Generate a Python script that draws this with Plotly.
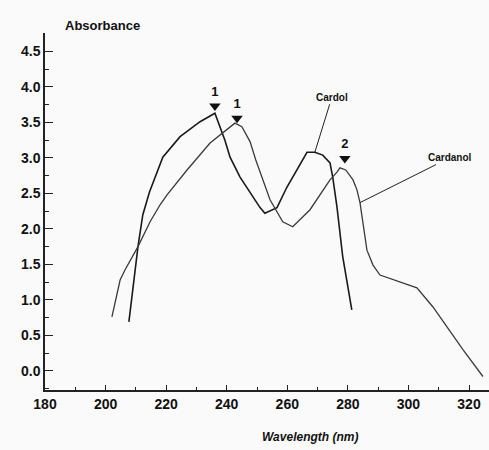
import plotly.graph_objects as go

# Cardol spectrum (wavelength nm, absorbance)
cardol_x = [207.7, 210.7, 212.3, 214.5, 218.9, 224.6, 231.2, 236.1, 239.4, 241.1, 244.4,
            247.7, 251.0, 252.6, 256.6, 259.9, 263.2, 266.5, 269.1, 271.7, 274.1, 275.0,
            276.4, 278.3, 281.3]
cardol_y = [0.69, 1.75, 2.20, 2.52, 3.01, 3.30, 3.51, 3.63, 3.25, 3.01, 2.73,
            2.51, 2.30, 2.22, 2.30, 2.59, 2.83, 3.08, 3.08, 3.04, 2.93, 2.73,
            2.31, 1.61, 0.86]

# Cardanol spectrum
cardanol_x = [202.1, 204.8, 206.4, 210.7, 214.7, 218.0, 220.3, 226.9, 234.5, 240.4, 242.7,
              245.0, 247.7, 249.6, 251.6, 254.3, 258.5, 261.8, 267.5, 274.1, 276.4, 277.4,
              279.3, 281.7, 283.0, 284.0, 286.3, 288.3, 290.6, 297.2, 302.8, 308.1, 312.7,
              318.0, 324.6]
cardanol_y = [0.76, 1.28, 1.42, 1.75, 2.10, 2.34, 2.48, 2.83, 3.21, 3.42, 3.49,
              3.44, 3.23, 2.97, 2.73, 2.41, 2.10, 2.03, 2.27, 2.69, 2.80, 2.86,
              2.83, 2.69, 2.55, 2.37, 1.70, 1.49, 1.35, 1.25, 1.17, 0.90, 0.62,
              0.30, -0.08]

# Peak markers
peak_x = [236.1, 243.4, 279.0]
peak_y = [3.73, 3.56, 2.99]
peak_labels = ["1", "1", "2"]

x_ticks = [180, 200, 220, 240, 260, 280, 300, 320]
y_ticks = [0.0, 0.5, 1.0, 1.5, 2.0, 2.5, 3.0, 3.5, 4.0, 4.5]

fig = go.Figure()
fig.add_trace(go.Scatter(x=cardol_x, y=cardol_y, mode="lines",
                         line=dict(color="#1a1a1a", width=1.6), showlegend=False))
fig.add_trace(go.Scatter(x=cardanol_x, y=cardanol_y, mode="lines",
                         line=dict(color="#3a3a3a", width=1.3), showlegend=False))
fig.add_trace(go.Scatter(x=peak_x, y=peak_y, mode="markers+text",
                         marker=dict(symbol="triangle-down", size=10, color="#111"),
                         text=peak_labels, textposition="top center",
                         textfont=dict(family="Liberation Sans", size=13, color="#111", weight="bold"),
                         showlegend=False))

fig.update_layout(
    width=489, height=450,
    margin=dict(l=45, r=0, t=33, b=60),
    paper_bgcolor="#fafafa", plot_bgcolor="#fafafa",
    xaxis=dict(range=[180, 326.6], tickvals=x_ticks, ticks="inside", ticklen=5,
               tickcolor="#222", showline=True, linecolor="#222", linewidth=1.5,
               showgrid=False, zeroline=False,
               tickfont=dict(family="Liberation Sans", size=14, color="#111", weight="bold"),
               minor=dict(dtick=10, ticks="inside", ticklen=3, tickcolor="#222")),
    yaxis=dict(range=[-0.27, 4.76], tickvals=y_ticks, tickformat=".1f", ticks="inside",
               ticklen=8, tickcolor="#222", showline=True, linecolor="#222", linewidth=1.5,
               showgrid=False, zeroline=False,
               tickfont=dict(family="Liberation Sans", size=14, color="#111", weight="bold"),
               minor=dict(dtick=0.25, ticks="inside", ticklen=4, tickcolor="#222")),
)

fig.add_annotation(xref="paper", yref="paper", x=(63 - 45) / 444, y=(390 - 25) / 357,
                   text="Absorbance", showarrow=False, xanchor="left", yanchor="middle",
                   font=dict(family="Liberation Sans", size=13, color="#111", weight="bold"))
fig.add_annotation(xref="paper", yref="paper", x=(310 - 45) / 444, y=(390 - 437) / 357,
                   text="<i>Wavelength (nm)</i>", showarrow=False, xanchor="center", yanchor="middle",
                   font=dict(family="Liberation Sans", size=12, color="#111", weight="bold"))
# Curve labels with pointer lines
fig.add_annotation(x=269.1, y=3.08, text="Cardol", showarrow=True, arrowhead=0,
                   ax=17, ay=-55, arrowwidth=1, arrowcolor="#222",
                   font=dict(family="Liberation Sans", size=10, color="#111", weight="bold"))
fig.add_annotation(x=284.0, y=2.37, text="Cardanol", showarrow=True, arrowhead=0,
                   ax=90, ay=-45, arrowwidth=1, arrowcolor="#222",
                   font=dict(family="Liberation Sans", size=10, color="#111", weight="bold"))

fig.write_html("out.html")
